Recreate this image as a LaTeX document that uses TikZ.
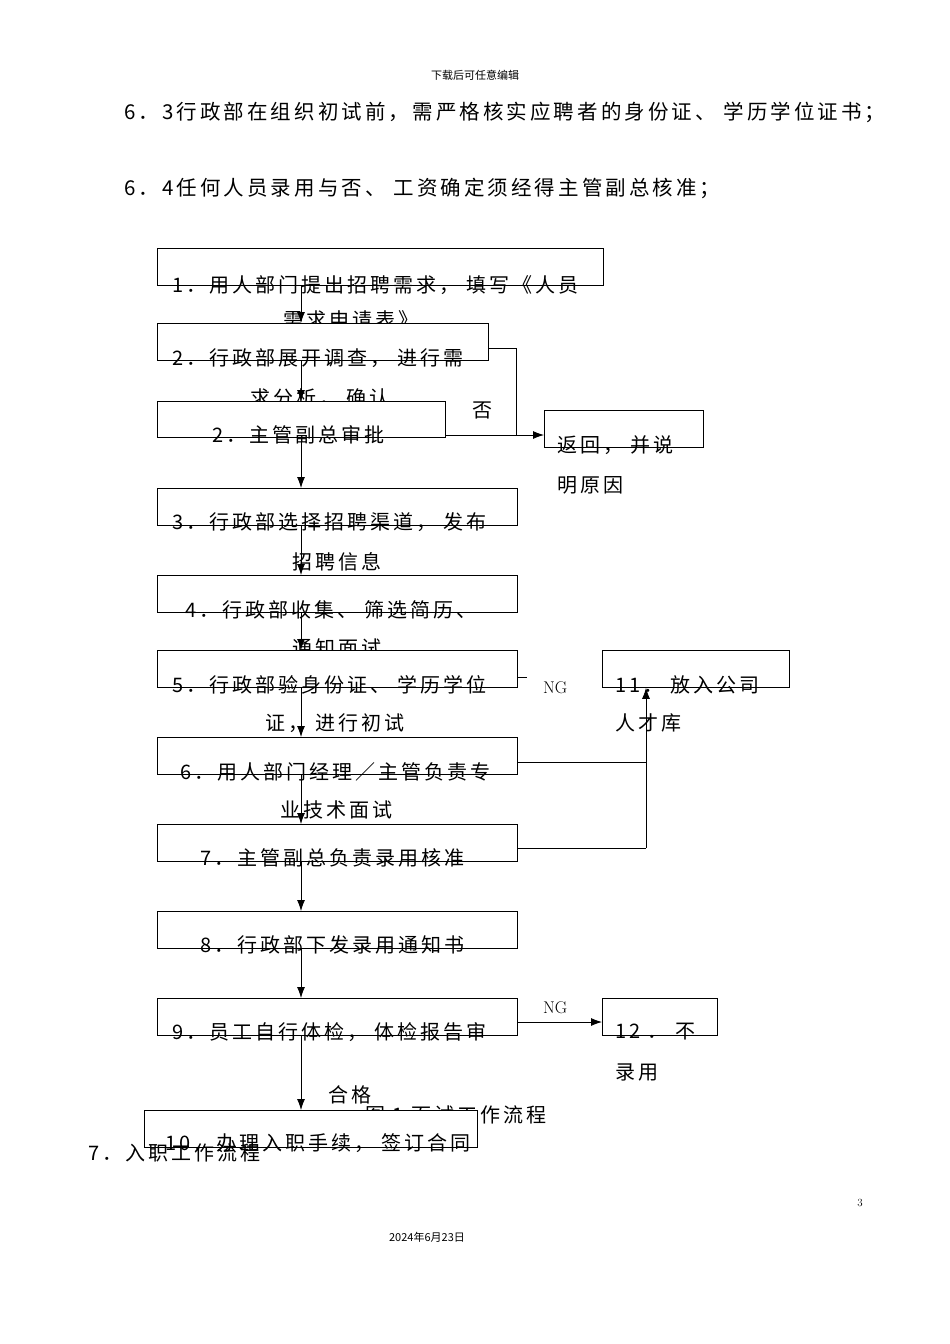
\documentclass[tikz,border=0pt]{standalone}
\usepackage{fontspec}
\usetikzlibrary{arrows.meta}
\newfontfamily\cjk{Noto Sans CJK SC}
\newfontfamily\cjkw[LetterSpace=15]{Noto Sans CJK SC}
\begin{document}
\begin{tikzpicture}[x=1pt,y=-1pt,
  bx/.style={draw,fill=white,line width=0.8pt},
  tx/.style={anchor=west,inner sep=0pt,font=\cjkw\fontsize{20}{20}\selectfont},
  ln/.style={line width=0.8pt},
  ar/.style={ln,-{Latex[length=11pt,width=8pt]}}]
\useasboundingbox (0,0) rectangle (950,1344);
\node[anchor=center,inner sep=0pt,font=\cjk\fontsize{11}{11}\selectfont] (hd) at (475,75) {下载后可任意编辑};
\node[tx,font=\cjkw\fontsize{20.5}{20.5}\selectfont] (p63) at (124,112) {6．3行政部在组织初试前，需严格核实应聘者的身份证、 学历学位证书；};
\node[tx,font=\cjkw\fontsize{20.5}{20.5}\selectfont] (p64) at (124,188) {6．4任何人员录用与否、 工资确定须经得主管副总核准；};
% box 1
\node[bx,minimum width=446,minimum height=37,anchor=north west,inner sep=0] (b1) at (157,248) {};
\node[tx] (t1a) at (172,285) {1．用人部门提出招聘需求， 填写《人员};
\node[tx] (t1b) at (283,320) {需求申请表》};
% box 2
\node[bx,minimum width=331,minimum height=37,anchor=north west,inner sep=0] (b2) at (157,323) {};
\node[tx] (t2a) at (172,358) {2．行政部展开调查， 进行需};
\node[tx] (t2b) at (250,398) {求分析， 确认};
% box 2b
\node[bx,minimum width=288,minimum height=36,anchor=north west,inner sep=0] (b2b) at (157,401) {};
\node[tx] (t2c) at (212,435) {2．主管副总审批};
% return
\node[bx,minimum width=159,minimum height=37,anchor=north west,inner sep=0] (br) at (544,410) {};
\node[tx] (tra) at (557,445) {返回， 并说};
\node[tx] (trb) at (557,485) {明原因};
\node[tx] (no) at (472,410) {否};
\coordinate (c1) at (516,348);
\coordinate (c2) at (516,435);
\draw[ln] (b2.east |- c1) -- (c1) -- (c2);
\draw[ar] (b2b.east |- c2) -- (br.west |- c2);
% box 3
\node[bx,minimum width=360,minimum height=37,anchor=north west,inner sep=0] (b3) at (157,488) {};
\node[tx] (t3a) at (172,522) {3．行政部选择招聘渠道， 发布};
\node[tx] (t3b) at (292,562) {招聘信息};
% box 4
\node[bx,minimum width=360,minimum height=37,anchor=north west,inner sep=0] (b4) at (157,575) {};
\node[tx] (t4a) at (185,610) {4．行政部收集、 筛选简历、};
\node[tx] (t4b) at (292,648) {通知面试};
% box 5
\node[bx,minimum width=360,minimum height=37,anchor=north west,inner sep=0] (b5) at (157,650) {};
\node[tx] (t5a) at (172,685) {5．行政部验身份证、 学历学位};
\node[tx] (t5b) at (265,723) {证， 进行初试};
\coordinate (s1) at (527,677);
\draw[ln] (b5.east |- s1) -- (s1);
\node[tx,font=\fontsize{17}{17}\selectfont] (ng1) at (543,688) {NG};
% box 11
\node[bx,minimum width=187,minimum height=37,anchor=north west,inner sep=0] (b11) at (602,650) {};
\node[tx] (t11a) at (615,685) {11． 放入公司};
\node[tx] (t11b) at (615,723) {人才库};
% box 6
\node[bx,minimum width=360,minimum height=37,anchor=north west,inner sep=0] (b6) at (157,737) {};
\node[tx] (t6a) at (180,772) {6．用人部门经理／主管负责专};
\node[tx] (t6b) at (280,810) {业技术面试};
% box 7
\node[bx,minimum width=360,minimum height=37,anchor=north west,inner sep=0] (b7) at (157,824) {};
\node[tx] (t7a) at (200,858) {7．主管副总负责录用核准};
\coordinate (r6) at (646,762);
\coordinate (r7) at (646,848);
\draw[ln] (b6.east |- r6) -- (r6);
\draw[ln] (b7.east |- r7) -- (r7);
\draw[ar] (r7) -- (r7 |- b11.south);
% box 8
\node[bx,minimum width=360,minimum height=37,anchor=north west,inner sep=0] (b8) at (157,911) {};
\node[tx] (t8a) at (200,945) {8．行政部下发录用通知书};
% box 9
\node[bx,minimum width=360,minimum height=37,anchor=north west,inner sep=0] (b9) at (157,998) {};
\node[tx] (t9a) at (172,1032) {9．员工自行体检， 体检报告审};
\node[tx,font=\fontsize{17}{17}\selectfont] (ng2) at (543,1008) {NG};
% box 12
\node[bx,minimum width=115,minimum height=37,anchor=north west,inner sep=0] (b12) at (602,998) {};
\node[tx] (t12a) at (615,1032) {12 ． 不};
\node[tx] (t12b) at (615,1072) {录用};
\coordinate (r9) at (517,1022);
\draw[ar] (r9) -- (b12.west |- r9);
\node[tx] (hg) at (328,1095) {合格};
\node[tx] (cap) at (365,1115) {图 1 面试工作流程};
% box 10
\node[bx,minimum width=333,minimum height=37,anchor=north west,inner sep=0] (b10) at (144,1110) {};
\node[tx] (t10a) at (165,1143) {10．办理入职手续， 签订合同};
\node[tx] (sec7) at (88,1153) {7．入职工作流程};
% trunk arrows
\coordinate (tr) at (301,0);
\draw[ar] (tr |- b1.south) -- (tr |- b2.north);
\draw[ar] (tr |- b2.south) -- (tr |- b2b.north);
\draw[ar] (tr |- b2b.south) -- (tr |- b3.north);
\draw[ar] (tr |- b3.south) -- (tr |- b4.north);
\draw[ar] (tr |- b4.south) -- (tr |- b5.north);
\draw[ar] (tr |- b5.south) -- (tr |- b6.north);
\draw[ar] (tr |- b6.south) -- (tr |- b7.north);
\draw[ar] (tr |- b7.south) -- (tr |- b8.north);
\draw[ar] (tr |- b8.south) -- (tr |- b9.north);
\draw[ar] (tr |- b9.south) -- (tr |- b10.north);
\node[anchor=center,inner sep=0pt,font=\fontsize{11}{11}\selectfont] (pg) at (860,1203) {3};
\node[anchor=center,inner sep=0pt,font=\cjk\fontsize{11}{11}\selectfont] (dt) at (427,1237) {2024年6月23日};
\end{tikzpicture}
\end{document}
